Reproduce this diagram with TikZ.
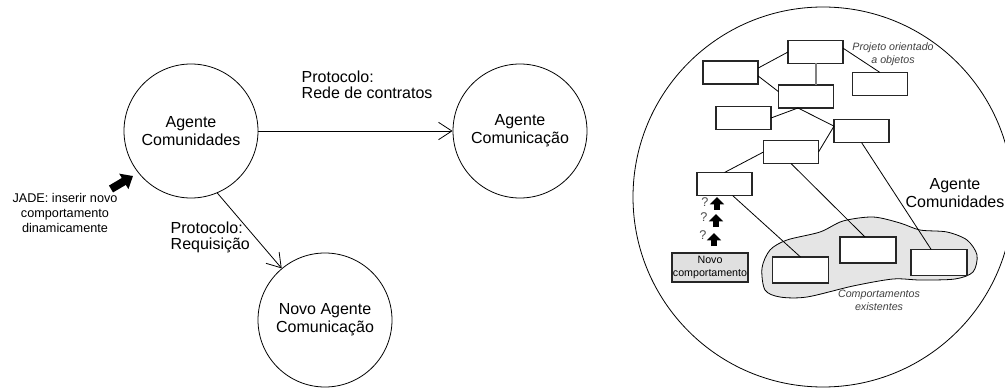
\documentclass[tikz,border=0pt]{standalone}
\usepackage{fontspec}
\setmainfont{Liberation Sans}
\usetikzlibrary{arrows.meta}

\begin{document}
\begin{tikzpicture}[x=0.75pt,y=-0.75pt,
	agent/.style={circle,draw,line width=0.6pt,minimum size=100.5pt,inner sep=0pt,align=center,font=\fontsize{12}{13.5}\selectfont},
	proto/.style={anchor=west,align=left,font=\fontsize{12}{12}\selectfont},
	obj/.style={draw=black!85,line width=0.9pt,minimum width=41.25pt,minimum height=17.25pt,inner sep=0pt,outer sep=0pt},
	beh/.style={obj,fill=white,minimum width=42pt,minimum height=19.5pt},
	note/.style={font=\fontsize{8}{9.5}\selectfont\itshape,text=black!75,align=center},
	link/.style={line width=0.6pt},
	msg/.style={line width=0.6pt,-{Straight Barb[length=10pt,width=13pt]}},
	fatarrow/.style={line width=6pt,-{Triangle[length=8pt,width=13pt]}},
	uparrow/.style={line width=4.5pt,-{Triangle[length=5.5pt,width=10.5pt]}},
	quest/.style={font=\fontsize{9.5}{10}\selectfont,text=black!70}]
	\useasboundingbox (0,0) rectangle (1005,388);
	%AGENTES
	\node[agent] (comunidades) at (191,131) {Agente\\Comunidades};
	\node[agent] (comunicacao) at (520,131) {Agente\\Comunicação};
	\node[agent] (novo) at (325,320) {Novo Agente\\Comunicação};
	\draw[msg] (comunidades) -- (comunicacao);
	\draw[msg] (comunidades.-67) -- (novo.130);
	\node[proto] (rede) at (297,85) {Protocolo:\\Rede de contratos};
	\node[proto] (requisicao) at (166,237) {Protocolo:\\Requisição};
	\node[font=\fontsize{9.5}{10.9}\selectfont,align=center] (jade) at (65,213) {JADE: inserir novo\\comportamento\\dinamicamente};
	\draw[fatarrow] (111,189) -- (133,176);
	%DENTRO DO AGENTE
	\node[circle,draw,line width=0.6pt,minimum size=285pt,inner sep=0pt] (mundo) at (823,197) {};
	\node[font=\fontsize{12}{13}\selectfont,align=center] (mundolabel) at (955,193) {Agente\\Comunidades};
	\draw[line width=0.6pt,fill=black!10] plot[smooth cycle] coordinates {(762,268) (770,250) (787,240) (820,232) (843,221) (873,217) (900,223) (920,230) (947,232) (967,240) (977,255) (973,272) (955,279) (920,280) (893,279) (853,286) (807,297) (780,297) (765,290)};
	\node[obj] (A) at (815.5,52) {};
	\node[obj] (B) at (730.5,72.5) {};
	\node[obj] (C) at (806,96.5) {};
	\node[obj] (D) at (743.5,118) {};
	\node[obj] (E) at (880,84) {};
	\node[obj] (F) at (861.5,131) {};
	\node[obj] (G) at (791,152) {};
	\node[obj] (H) at (724.5,184) {};
	\node[beh] (K1) at (800.5,270) {};
	\node[beh] (K2) at (868,250) {};
	\node[beh] (K3) at (939,262.5) {};
	\draw[link] (A.west) -- (B.9);
	\draw[link] (B.-7) -- (C.170);
	\draw[line width=1.5pt,black!50] (A.south) -- (A.south |- C.north);
	\draw[link] (A.8) -- (E.north);
	\draw[link] (C.-125) -- (D.east);
	\draw[link] (C.-125) -- (F.170);
	\draw[link] (F.170) -- (G.east);
	\draw[link] (G.west) -- (H.north);
	\draw[link] (G.south) -- (K2.103);
	\draw[link] (F.south) -- (K3.121);
	\draw[link] (H.-55) -- (K1.north);
	\node[note] (projeto) at (893,54) {Projeto orientado\\a objetos};
	\node[note] (existentes) at (879,300) {Comportamentos\\existentes};
	%NOVO COMPORTAMENTO
	\node[obj,fill=black!12,minimum width=57pt,minimum height=21.75pt,align=center,font=\fontsize{8}{9.75}\selectfont] (novocomp) at (710,267.5) {Novo\\comportamento};
	\node[quest] (q1) at (705,202) {?};
	\node[quest] (q2) at (704,217) {?};
	\node[quest] (q3) at (703,235) {?};
	\draw[uparrow] (717,210) -- (717,197);
	\draw[uparrow] (716,227) -- (716,214);
	\draw[uparrow] (714,246) -- (714,233);
\end{tikzpicture}
\end{document}
